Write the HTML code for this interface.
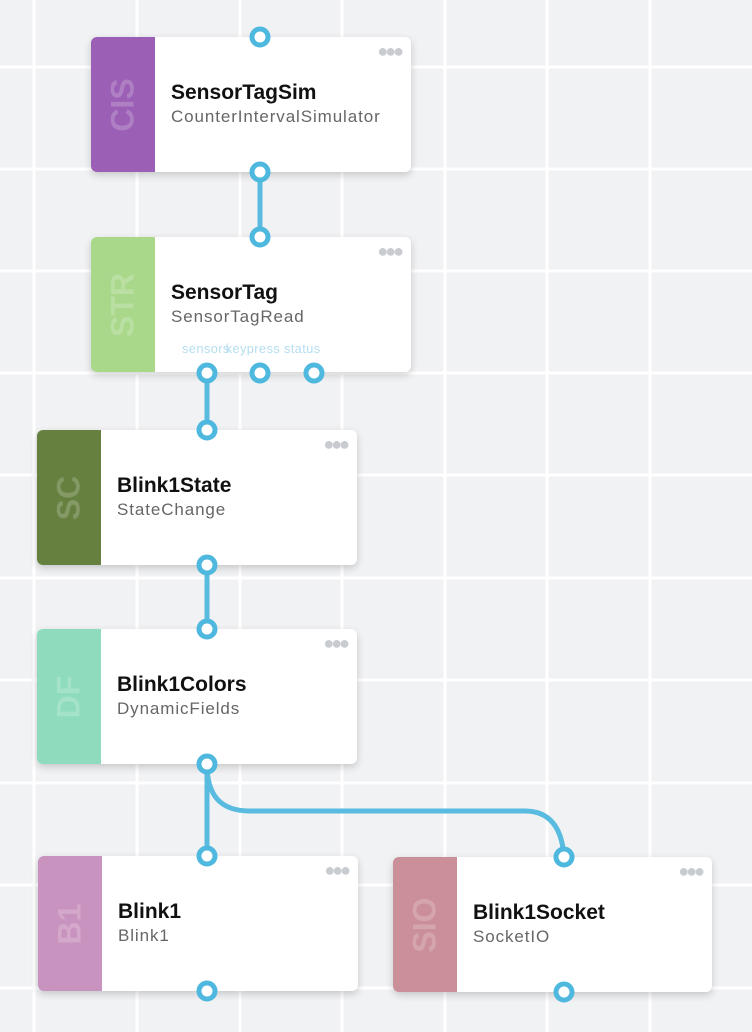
<!DOCTYPE html>
<html><head><meta charset="utf-8"><style>
body{margin:0;width:752px;height:1032px;overflow:hidden;background:#f1f2f4;font-family:"Liberation Sans",sans-serif;position:relative}
.grid{position:absolute;inset:0}
.node{position:absolute;width:320px;height:135px;background:#fff;border-radius:6px;box-shadow:0 3px 8px rgba(0,0,0,0.18);overflow:hidden}
.bar{position:absolute;left:0;top:0;bottom:0;width:64px}
.bar span{position:absolute;left:50%;top:50%;transform:translate(-50%,-50%) rotate(-90deg);font-weight:bold;font-size:32px;color:rgba(255,255,255,0.2);white-space:nowrap}
.t{position:absolute;left:80px;top:44px;font-weight:bold;font-size:21px;color:#111}
.s{position:absolute;left:80px;top:70px;font-size:17px;color:#666;letter-spacing:0.9px;white-space:nowrap}
.dots{position:absolute;right:10px;top:4px;font-size:18px;color:#c8ccd0;letter-spacing:-3px}
svg.ov{position:absolute;left:0;top:0}
</style></head><body>
<svg class="grid" width="752" height="1032">
<g stroke="#fff" stroke-width="3">
<line x1="34" y1="0" x2="34" y2="1032"/><line x1="137" y1="0" x2="137" y2="1032"/><line x1="240" y1="0" x2="240" y2="1032"/><line x1="342" y1="0" x2="342" y2="1032"/><line x1="445" y1="0" x2="445" y2="1032"/><line x1="547" y1="0" x2="547" y2="1032"/><line x1="650" y1="0" x2="650" y2="1032"/>
<line x1="0" y1="67" x2="752" y2="67"/><line x1="0" y1="169" x2="752" y2="169"/><line x1="0" y1="271" x2="752" y2="271"/><line x1="0" y1="373" x2="752" y2="373"/><line x1="0" y1="475" x2="752" y2="475"/><line x1="0" y1="578" x2="752" y2="578"/><line x1="0" y1="680" x2="752" y2="680"/><line x1="0" y1="783" x2="752" y2="783"/><line x1="0" y1="885" x2="752" y2="885"/><line x1="0" y1="988" x2="752" y2="988"/>
</g></svg>

<div class="node" style="left:91px;top:37px"><div class="bar" style="background:#9b5fb5"><span>CIS</span></div><div class="dots">●●●</div><div class="t">SensorTagSim</div><div class="s">CounterIntervalSimulator</div></div>
<div class="node" style="left:91px;top:237px"><div class="bar" style="background:#a9d88b"><span>STR</span></div><div class="dots">●●●</div><div class="t">SensorTag</div><div class="s">SensorTagRead</div>
<div style="position:absolute;left:91px;top:104px;font-size:13px;color:#b5def0;white-space:nowrap;letter-spacing:0.3px">sensors<span style="margin-left:-4px">keypress</span> status</div></div>
<div class="node" style="left:37px;top:430px"><div class="bar" style="background:#66803f"><span>SC</span></div><div class="dots">●●●</div><div class="t">Blink1State</div><div class="s">StateChange</div></div>
<div class="node" style="left:37px;top:629px"><div class="bar" style="background:#8edbbd"><span>DF</span></div><div class="dots">●●●</div><div class="t">Blink1Colors</div><div class="s">DynamicFields</div></div>
<div class="node" style="left:38px;top:856px"><div class="bar" style="background:#c893bf"><span>B1</span></div><div class="dots">●●●</div><div class="t">Blink1</div><div class="s">Blink1</div></div>
<div class="node" style="left:393px;top:857px;width:319px"><div class="bar" style="background:#cb8f99"><span>SIO</span></div><div class="dots">●●●</div><div class="t">Blink1Socket</div><div class="s">SocketIO</div></div>

<svg class="ov" width="752" height="1032">
<g stroke="#58bbdf" stroke-width="5" fill="none" stroke-linecap="round">
<line x1="260" y1="172" x2="260" y2="237"/>
<line x1="207" y1="373" x2="207" y2="430"/>
<line x1="207" y1="565" x2="207" y2="629"/>
<line x1="207" y1="764" x2="207" y2="856"/>
<path d="M207,764 C207,795 220,811 250,811 L525,811 C550,811 562,828 564,857"/>
</g>
<g stroke="#4fb8de" stroke-width="5" fill="#fff">
<circle cx="260" cy="37" r="8"/><circle cx="260" cy="172" r="8"/>
<circle cx="260" cy="237" r="8"/><circle cx="207" cy="373" r="8"/><circle cx="260" cy="373" r="8"/><circle cx="314" cy="373" r="8"/>
<circle cx="207" cy="430" r="8"/><circle cx="207" cy="565" r="8"/>
<circle cx="207" cy="629" r="8"/><circle cx="207" cy="764" r="8"/>
<circle cx="207" cy="856" r="8"/><circle cx="207" cy="991" r="8"/>
<circle cx="564" cy="857" r="8"/><circle cx="564" cy="992" r="8"/>
</g></svg>
</body></html>
